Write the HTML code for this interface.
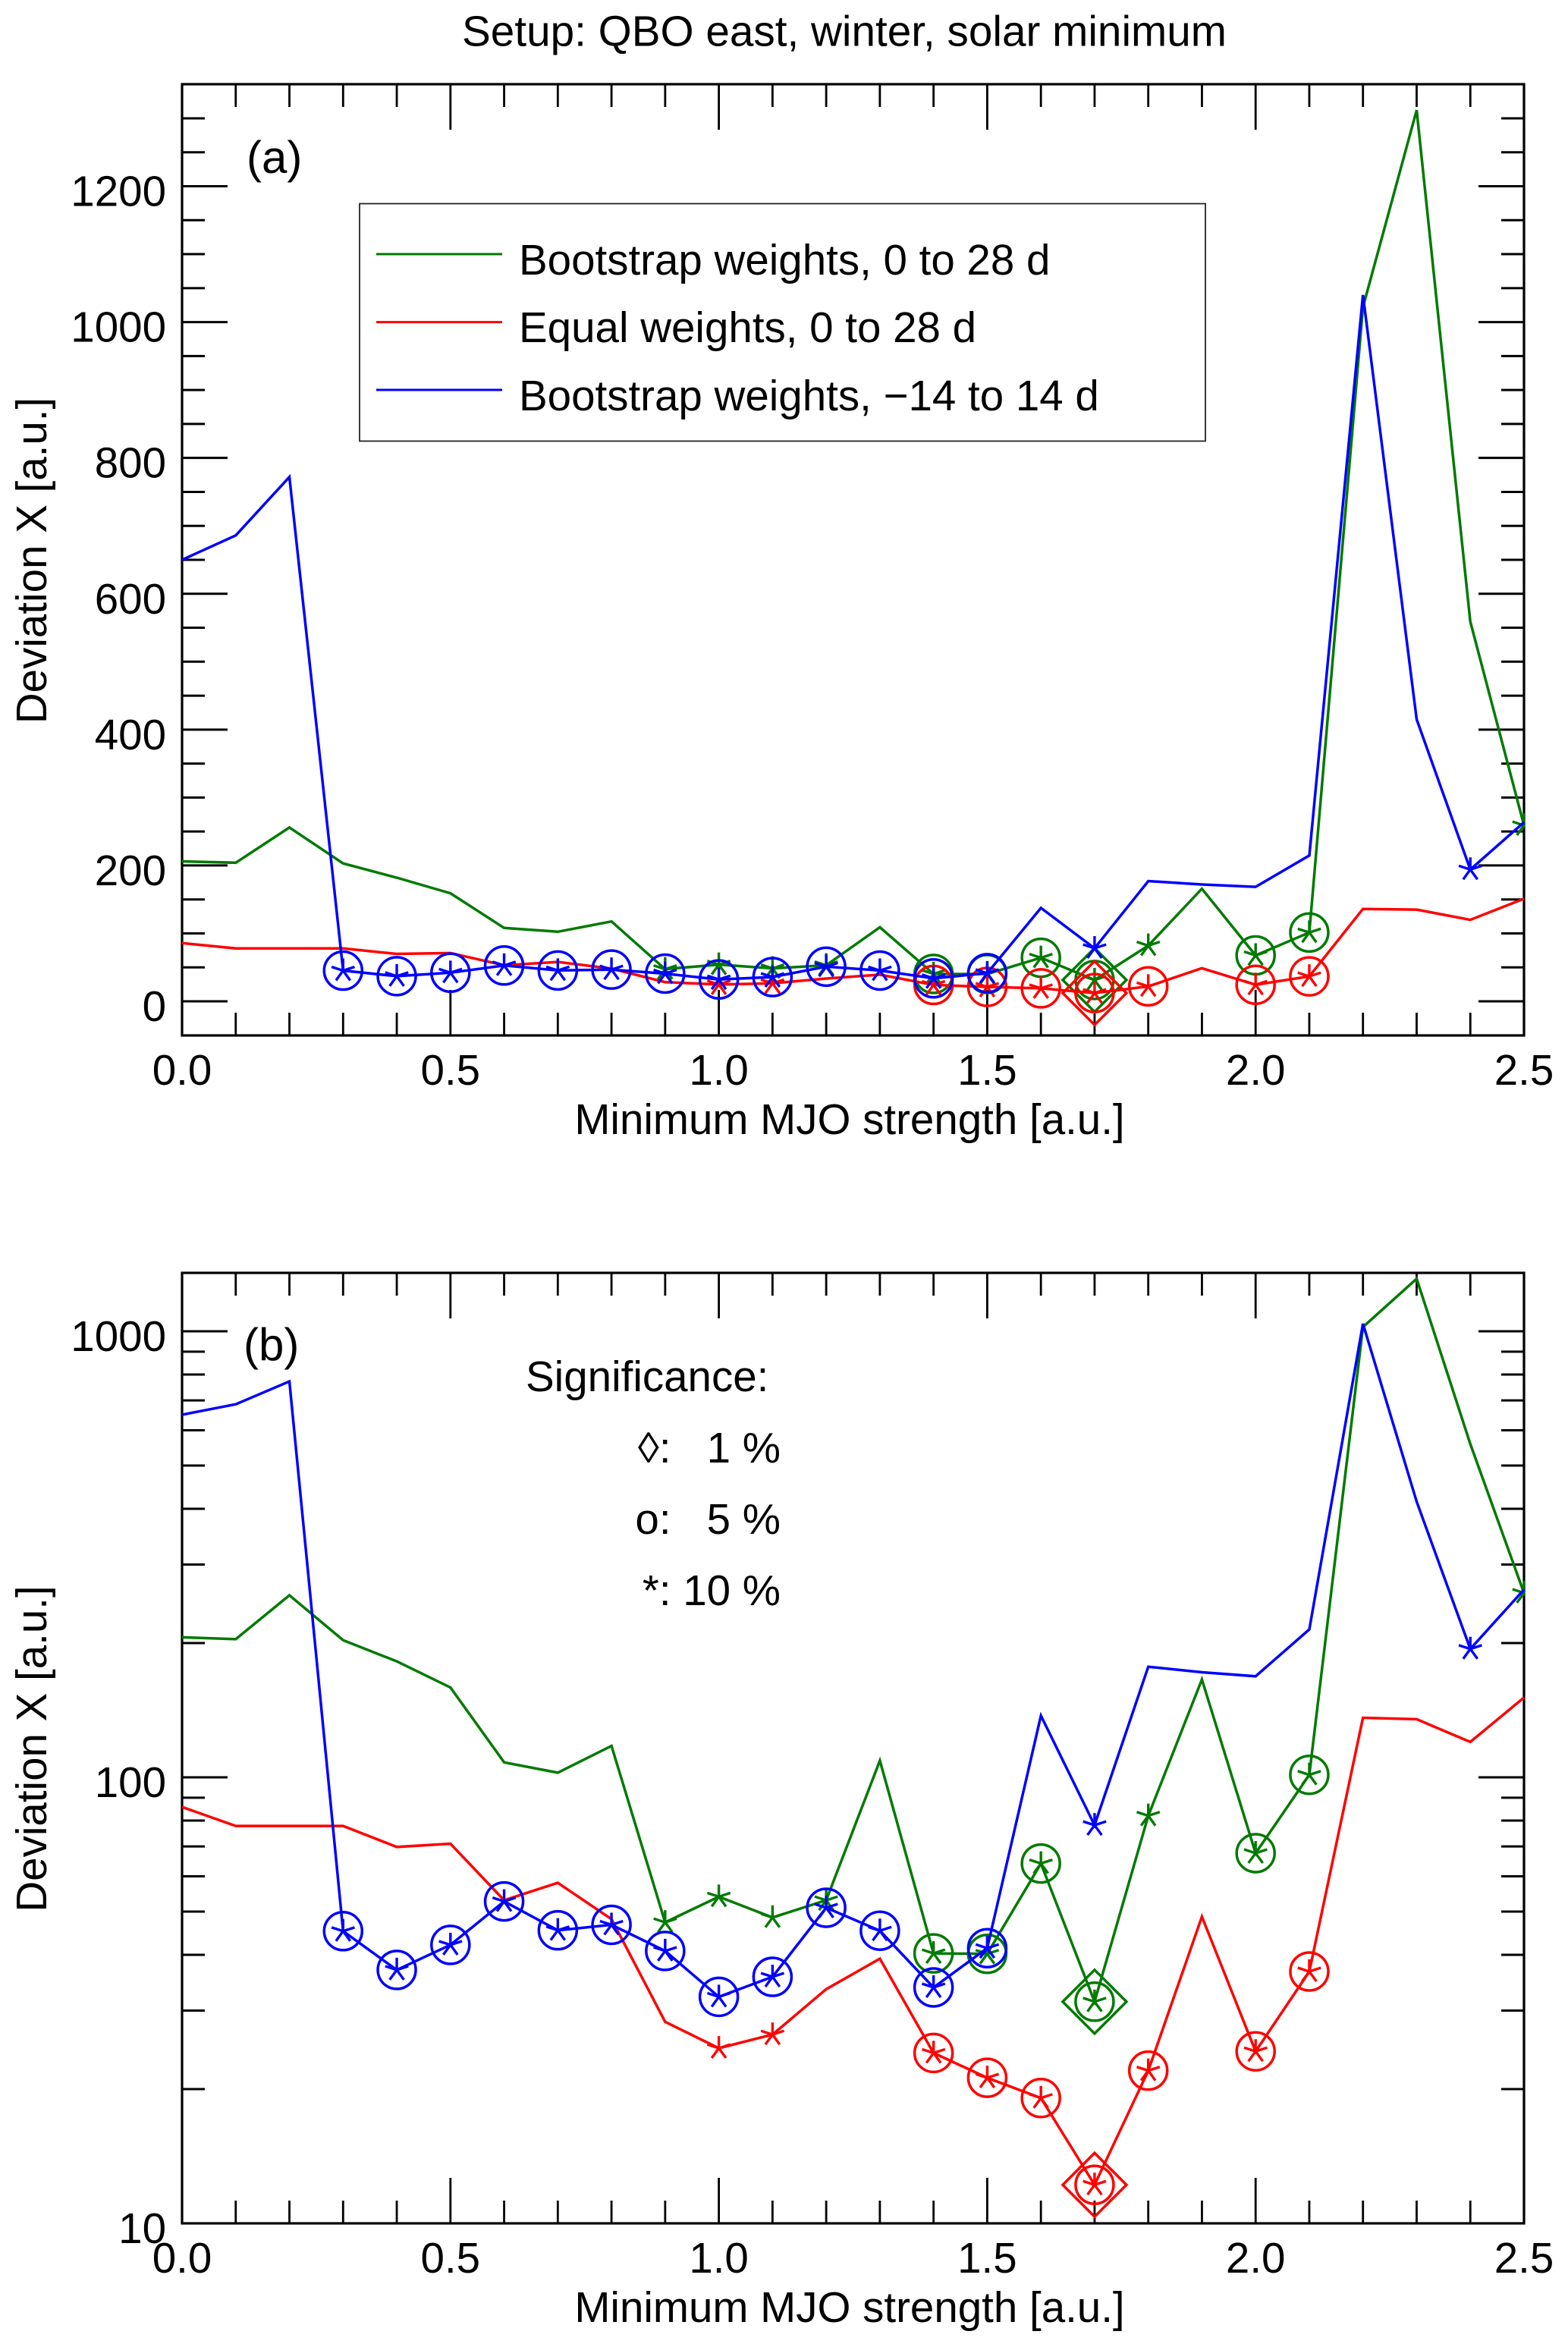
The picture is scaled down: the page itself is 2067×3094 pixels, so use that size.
<!DOCTYPE html>
<html lang="en">
<head>
<meta charset="utf-8">
<title>Deviation X versus minimum MJO strength</title>
<style>
html,body{margin:0;padding:0;background:#fff;width:2067px;height:3094px;overflow:hidden}
svg{display:block}
text{font-family:"Liberation Sans",Arial,sans-serif;fill:#000}
</style>
</head>
<body>
<svg id="chart" xmlns="http://www.w3.org/2000/svg" width="2067" height="3094" viewBox="0 0 2067 3094">
  <rect x="0" y="0" width="2067" height="3094" fill="#fff"/>
  <defs>
    <clipPath id="clip-a"><rect x="240" y="110" width="1770" height="1256"/></clipPath>
    <clipPath id="clip-b"><rect x="240" y="1677" width="1770" height="1255"/></clipPath>
  </defs>
  <text x="1113" y="60.5" font-size="56.5" text-anchor="middle" textLength="1008" lengthAdjust="spacingAndGlyphs">Setup: QBO east, winter, solar minimum</text>
  <g id="panel-a"></g>
  <g id="panel-b"></g>
</svg>
<script>
// ---- chart data ----
const strengths = [0.0,0.1,0.2,0.3,0.4,0.5,0.6,0.7,0.8,0.9,1.0,1.1,1.2,1.3,1.4,1.5,1.6,1.7,1.8,1.9,2.0,2.1,2.2,2.3,2.4,2.5];
const greenValues = [206,204,256,203,182,159,108,102.4,117.6,47.3,54,48.5,53,109,40.3,40.2,64.1,31.4,82,165.7,67.6,101.3,1022,1312,559,259];
const redValues = [85.8,77.8,77.8,77.8,69.8,71,53,58,48.1,28.3,24.7,26.5,33.5,39.2,24.1,21.2,19.1,12.2,22,48.7,24.3,36.7,136,135,120,151];
const blueValues = [650,686,772,45.2,37,42.1,52.7,45.4,46.7,40.8,32.2,35.7,51,45.3,33.8,41.4,137.5,78.1,177,172,168.5,214.6,1040,415,194,263.6];
// significance level per point: 0 none, 10 star, 5 star+circle, 1 star+circle+diamond
const greenSignificance = [0,0,0,0,0,0,0,0,0,10,10,10,10,0,5,5,5,1,10,0,5,5,0,0,0,10];
const redSignificance = [0,0,0,0,0,0,0,0,0,0,10,10,0,0,5,5,5,1,5,0,5,5,0,0,0,0];
const blueSignificance = [0,0,0,5,5,5,5,5,5,5,5,5,5,5,5,5,0,10,0,0,0,0,0,0,10,0];
const xTickLabels = [0.0,0.5,1.0,1.5,2.0,2.5];
const xMinorTicks = [0.1,0.2,0.3,0.4,0.6,0.7,0.8,0.9,1.1,1.2,1.3,1.4,1.6,1.7,1.8,1.9,2.1,2.2,2.3,2.4];
const linearTickLabels = [0,200,400,600,800,1000,1200];
const linearMinorTicks = [50,100,150,250,300,350,450,500,550,650,700,750,850,900,950,1050,1100,1150,1250,1300];
const logTickLabels = [10,100,1000];
const logMinorTicks = [20,30,40,50,60,70,80,90,200,300,400,500,600,700,800,900];
const seriesGreenName = 'Bootstrap weights, 0 to 28 d';
const seriesRedName = 'Equal weights, 0 to 28 d';
const seriesBlueName = 'Bootstrap weights, \u221214 to 14 d';

// ---- geometry ----
const NS = 'http://www.w3.org/2000/svg';
const LEFT = 240, RIGHT = 2009;
const FONT = 56.5;
const GREEN = '#007a00', RED = '#ff0000', BLUE = '#0000ff';
const xScale = v => LEFT + (v - 0) * (RIGHT - LEFT) / 2.5;
const yLinear = v => 1320 - v * 0.8954;
const yLog = v => 2931 - (Math.log10(v) - 1) * 588;

function mk(tag, parent, attrs) {
  const el = document.createElementNS(NS, tag);
  for (const k in attrs) el.setAttribute(k, attrs[k]);
  parent.appendChild(el);
  return el;
}
function seg(parent, x1, y1, x2, y2, w, color) {
  return mk('line', parent, {x1, y1, x2, y2, stroke: color || '#000', 'stroke-width': w});
}
function label(parent, x, y, str, size, anchor) {
  const t = mk('text', parent, {x, y, 'font-size': size, 'text-anchor': anchor || 'start'});
  t.textContent = str;
  return t;
}

function drawAxes(g, top, bottom, yFn, yMajor, yMinor, yNameBase) {
  const axes = mk('g', g, {});
  
  
  const frame = mk('rect', axes, {x: LEFT, y: top, width: RIGHT - LEFT, height: bottom - top, fill: 'none', stroke: '#000', 'stroke-width': 3.2});
  
  
  xTickLabels.forEach(v => {
    const x = xScale(v);
    const a = seg(axes, x, bottom, x, bottom - 60, 2.8);
    
    
    const b = seg(axes, x, top, x, top + 60, 2.8);
    
    
    const t = label(axes, x, bottom + 65, v.toFixed(1), FONT, 'middle');
    
    
  });
  xMinorTicks.forEach(v => {
    const x = xScale(v);
    const a = seg(axes, x, bottom, x, bottom - 30, 2.8);
    
    
    const b = seg(axes, x, top, x, top + 30, 2.8);
    
    
  });
  yMajor.forEach(v => {
    const y = yFn(v);
    const a = seg(axes, LEFT, y, LEFT + 60, y, 3);
    
    
    const b = seg(axes, RIGHT, y, RIGHT - 60, y, 3);
    
    
    const t = label(axes, 219, y + 26, String(v), FONT, 'end');
    
    
  });
  yMinor.forEach(v => {
    const y = yFn(v);
    const a = seg(axes, LEFT, y, LEFT + 30, y, 3);
    
    
    const b = seg(axes, RIGHT, y, RIGHT - 30, y, 3);
    
    
  });
  const xt = label(axes, 1120, bottom + 130, 'Minimum MJO strength [a.u.]', FONT, 'middle');
  
  
  const cy = (top + bottom) / 2 + 1;
  const yt = label(axes, 0, 0, 'Deviation X [a.u.]', FONT, 'middle');
  yt.setAttribute('transform', 'translate(61,' + cy + ') rotate(-90)');
  
  
}

function drawStar(parent, cx, cy, color) {
  const r = 16;
  for (let i = 0; i < 5; i++) {
    const ang = (-90 + i * 72) * Math.PI / 180;
    mk('line', parent, {x1: cx, y1: cy, x2: cx + r * Math.cos(ang), y2: cy + r * Math.sin(ang), stroke: color, 'stroke-width': 3.4});
  }
}

function drawSeries(g, yFn, values, sig, color, name) {
  const s = mk('g', g, {});
  
  
  const pts = values.map((v, i) => xScale(strengths[i]).toFixed(1) + ',' + yFn(v).toFixed(1)).join(' ');
  const line = mk('polyline', s, {points: pts, fill: 'none', stroke: color, 'stroke-width': 3.5, 'stroke-linejoin': 'miter'});
  
  
  values.forEach((v, i) => {
    const level = sig[i];
    if (!level) return;
    const cx = xScale(strengths[i]), cy = yFn(v);
    const star = mk('g', s, {});
    
    
    drawStar(star, cx, cy, color);
    if (level <= 5) {
      const c = mk('circle', s, {cx, cy, r: 25, fill: 'none', stroke: color, 'stroke-width': 3.5});
      
      
    }
    if (level === 1) {
      const d = 42;
      const dm = mk('polygon', s, {points: [cx, cy - d, cx + d, cy, cx, cy + d, cx - d, cy].join(' '), fill: 'none', stroke: color, 'stroke-width': 3.5});
      
      
    }
  });
}

// ---- panel (a) ----
const pa = document.getElementById('panel-a');
drawAxes(pa, 111, 1365, yLinear, linearTickLabels, linearMinorTicks, 'panel-a');
const clipA = mk('g', pa, {'clip-path': 'url(#clip-a)'});
drawSeries(clipA, yLinear, greenValues, greenSignificance, GREEN, 'panel-a-green-series');
drawSeries(clipA, yLinear, redValues, redSignificance, RED, 'panel-a-red-series');
drawSeries(clipA, yLinear, blueValues, blueSignificance, BLUE, 'panel-a-blue-series');

const paLabel = label(pa, 325, 228, '(a)', 60);



const legend = mk('g', pa, {});


const legendBox = mk('rect', legend, {x: 474, y: 268.5, width: 1115, height: 313, fill: '#fff', stroke: '#222', 'stroke-width': 1.8});


const legendNames = [seriesGreenName, seriesRedName, seriesBlueName];
const legendColors = [GREEN, RED, BLUE];
const legendLineY = [335, 424.6, 514];
const legendTextY = [362, 451, 541];
legendNames.forEach((n, i) => {
  const l = seg(legend, 496, legendLineY[i], 662, legendLineY[i], 3, legendColors[i]);
  
  
  const t = label(legend, 684, legendTextY[i], n, FONT);
  
  
});

// ---- panel (b) ----
const pb = document.getElementById('panel-b');
drawAxes(pb, 1678, 2931, yLog, logTickLabels, logMinorTicks, 'panel-b');
const clipB = mk('g', pb, {'clip-path': 'url(#clip-b)'});
drawSeries(clipB, yLog, greenValues, greenSignificance, GREEN, 'panel-b-green-series');
drawSeries(clipB, yLog, redValues, redSignificance, RED, 'panel-b-red-series');
drawSeries(clipB, yLog, blueValues, blueSignificance, BLUE, 'panel-b-blue-series');

const pbLabel = label(pb, 321, 1793, '(b)', 60);



const sigTitle = label(pb, 693, 1834, 'Significance:', FONT);


const sig1 = label(pb, 1029, 1928, '\u25CA:\u00A0\u00A0 1 %', FONT, 'end');


const sig5 = label(pb, 1029, 2022, 'o:\u00A0\u00A0 5 %', FONT, 'end');


const sig10 = label(pb, 1029, 2116, '*: 10 %', FONT, 'end');


</script>
</body>
</html>
